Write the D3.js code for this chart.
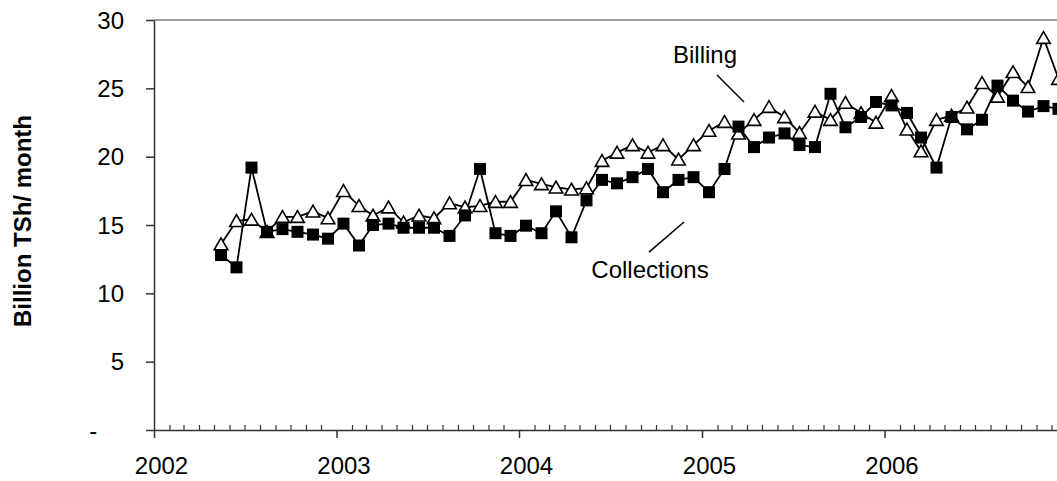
<!DOCTYPE html>
<html><head><meta charset="utf-8">
<script src="https://cdn.jsdelivr.net/npm/d3@7"></script>
<style>
body{margin:0;background:#fff}
svg{display:block}
text{font-family:"Liberation Sans",Arial,sans-serif;fill:#000}
</style>
</head><body>
<svg id="chart" width="1057" height="481"></svg>
<script>
// ---- data ----
const months = [
 "2002-05","2002-06","2002-07","2002-08","2002-09","2002-10","2002-11","2002-12",
 "2003-01","2003-02","2003-03","2003-04","2003-05","2003-06","2003-07","2003-08","2003-09","2003-10","2003-11","2003-12",
 "2004-01","2004-02","2004-03","2004-04","2004-05","2004-06","2004-07","2004-08","2004-09","2004-10","2004-11","2004-12",
 "2005-01","2005-02","2005-03","2005-04","2005-05","2005-06","2005-07","2005-08","2005-09","2005-10","2005-11","2005-12",
 "2006-01","2006-02","2006-03","2006-04","2006-05","2006-06","2006-07","2006-08","2006-09","2006-10","2006-11","2006-12"];
const billing = [
 13.6,15.3,15.4,14.5,15.6,15.6,16.0,15.5,
 17.5,16.4,15.7,16.3,15.2,15.7,15.5,16.6,16.3,16.4,16.7,16.7,
 18.3,18.0,17.75,17.6,17.7,19.7,20.3,20.85,20.3,20.85,19.8,20.85,
 21.9,22.55,21.7,22.7,23.65,22.9,21.75,23.3,22.7,23.95,23.2,22.5,
 24.45,22.0,20.4,22.7,23.0,23.6,25.4,24.4,26.2,25.1,28.7,25.7];
const collections = [
 12.8,11.9,19.2,14.5,14.7,14.5,14.3,14.0,
 15.1,13.5,15.0,15.1,14.8,14.8,14.8,14.2,15.7,19.1,14.4,14.2,
 14.95,14.4,16.0,14.1,16.8,18.3,18.05,18.5,19.1,17.4,18.3,18.5,
 17.4,19.1,22.2,20.7,21.4,21.7,20.85,20.7,24.6,22.15,22.9,24.0,
 23.75,23.2,21.4,19.2,22.9,22.0,22.7,25.2,24.1,23.3,23.7,23.5];
const yTicks = [0,5,10,15,20,25,30];
const yearLabels = ["2002","2003","2004","2005","2006"];
const yTitle = "Billion TSh/ month";
const annotations = [
  {text:"Billing", at:"2005-01-07", v:26.85, from:["2005-01-31",25.98], to:["2005-03-26",24.0]},
  {text:"Collections", at:"2004-09-19", v:11.12, from:["2004-09-17",13.02], to:["2004-11-26",15.22]}
];

// ---- chart ----
const svg = d3.select("#chart");
const parseDay = d3.utcParse("%Y-%m-%d");
const x = d3.scaleUtc().domain([parseDay("2002-01-01"), parseDay("2007-01-01")]).range([154, 1067]);
const y = d3.scaleLinear().domain([0,30]).range([430,20]);
const mid = m => parseDay(m + "-15");
const axisColor = "#333";
const fs = 24;

// top border
svg.append("line").attr("x1", x.range()[0]).attr("x2", 1057).attr("y1", y(30)).attr("y2", y(30))
  .attr("stroke", "#808080").attr("stroke-width", 1.5);

// minor month ticks (upward)
const monthDates = d3.utcMonth.range(parseDay("2002-02-01"), parseDay("2007-01-01")).filter(d => d.getUTCMonth() !== 0);
svg.append("g").attr("transform", `translate(0,${y(0)})`)
  .call(d3.axisBottom(x).tickValues(monthDates).tickSize(-5).tickSizeOuter(0).tickFormat(""))
  .call(g => g.select(".domain").remove())
  .call(g => g.selectAll("line").attr("stroke", axisColor).attr("stroke-width", 1.2));

// major year ticks + axis line
const yearDates = yearLabels.map(s => parseDay(s + "-01-01"));
svg.append("g").attr("transform", `translate(0,${y(0)})`)
  .call(d3.axisBottom(x).tickValues(yearDates).tickSize(8).tickSizeOuter(0).tickFormat(""))
  .call(g => g.select(".domain").attr("stroke", axisColor).attr("stroke-width", 1.5))
  .call(g => g.selectAll("line").attr("stroke", axisColor).attr("stroke-width", 1.5));

// year labels (centered in January)
svg.append("g").selectAll("text").data(yearLabels).join("text")
  .attr("x", d => x(parseDay(d + "-01-16")))
  .attr("y", 473.5)
  .attr("text-anchor", "middle")
  .attr("font-size", fs)
  .text(d => d);

// y axis
svg.append("g").attr("transform", `translate(${x.range()[0]},0)`)
  .call(d3.axisLeft(y).tickValues(yTicks).tickSize(8).tickSizeOuter(0).tickPadding(22)
        .tickFormat(d => d === 0 ? "-" : d))
  .call(g => g.select(".domain").attr("stroke", axisColor).attr("stroke-width", 1.5))
  .call(g => g.selectAll("line").attr("stroke", axisColor).attr("stroke-width", 1.5))
  .call(g => g.selectAll("text").attr("font-size", fs).attr("font-family", '"Liberation Sans",Arial,sans-serif')
        .attr("fill", "#000").attr("dy", "0.34em")
        .attr("dx", d => d === 0 ? `${-2*0.556}em` : 0));

// y title
svg.append("text")
  .attr("transform", `translate(31,${(y(0)+y(30))/2 - 4}) rotate(-90)`)
  .attr("text-anchor", "middle")
  .attr("font-size", 24).attr("font-weight", "bold")
  .text(yTitle);

// lines
const line = d3.line().x((d,i) => x(mid(months[i]))).y(d => y(d));
svg.append("path").datum(billing).attr("d", line).attr("fill", "none").attr("stroke", "#000").attr("stroke-width", 1.8);
svg.append("path").datum(collections).attr("d", line).attr("fill", "none").attr("stroke", "#000").attr("stroke-width", 1.8);

// triangle markers (billing)
svg.append("g").selectAll("path").data(billing).join("path")
  .attr("transform", (d,i) => `translate(${x(mid(months[i]))},${y(d)})`)
  .attr("d", "M0,-6.2L6.8,5.6L-6.8,5.6Z")
  .attr("fill", "#fff").attr("stroke", "#000").attr("stroke-width", 1.6).attr("stroke-linejoin", "miter");

// square markers (collections)
svg.append("g").selectAll("rect").data(collections).join("rect")
  .attr("x", (d,i) => x(mid(months[i])) - 6)
  .attr("y", d => y(d) - 6)
  .attr("width", 12).attr("height", 12)
  .attr("fill", "#000");

// annotations
const ann = svg.append("g");
annotations.forEach(a => {
  ann.append("text").attr("x", x(parseDay(a.at))).attr("y", y(a.v))
    .attr("text-anchor", "middle").attr("font-size", fs).text(a.text);
  ann.append("line")
    .attr("x1", x(parseDay(a.from[0]))).attr("y1", y(a.from[1]))
    .attr("x2", x(parseDay(a.to[0]))).attr("y2", y(a.to[1]))
    .attr("stroke", "#000").attr("stroke-width", 1.5);
});
</script>
</body></html>
